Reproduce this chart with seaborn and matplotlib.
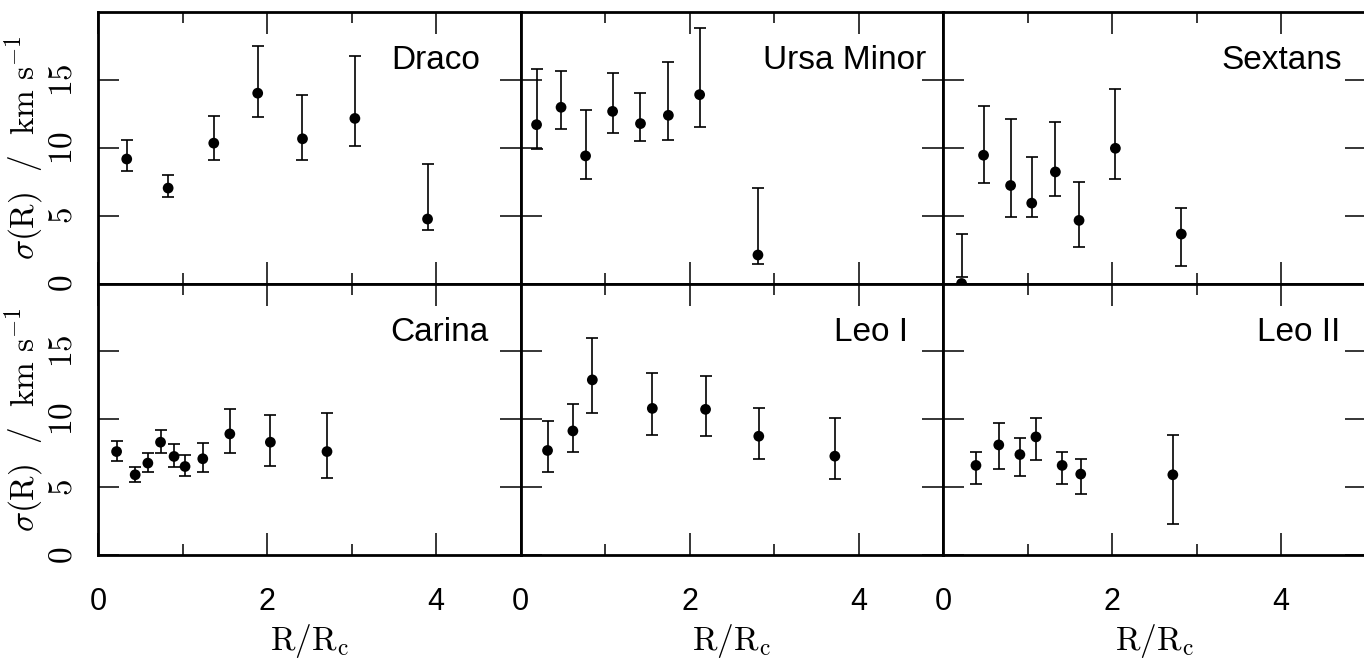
import matplotlib
matplotlib.use("Agg")
import matplotlib.pyplot as plt
import seaborn as sns
import pandas as pd
import numpy as np
from matplotlib.ticker import FixedLocator

# Velocity dispersion profiles of six dwarf spheroidals
galaxies = ["Draco", "Ursa Minor", "Sextans", "Carina", "Leo I", "Leo II"]

draco_r = [0.34, 0.83, 1.37, 1.89, 2.42, 3.04, 3.90]
draco_sigma = [9.17, 7.03, 10.34, 14.02, 10.66, 12.16, 4.75]
draco_lo = [8.26, 6.40, 9.09, 12.25, 9.09, 10.15, 3.92]
draco_hi = [10.54, 7.96, 12.35, 17.50, 13.87, 16.79, 8.80]

umi_r = [0.19, 0.48, 0.77, 1.09, 1.42, 1.75, 2.12, 2.81]
umi_sigma = [11.70, 12.98, 9.40, 12.68, 11.78, 12.39, 13.91, 2.10]
umi_lo = [9.89, 11.36, 7.68, 11.07, 10.53, 10.60, 11.53, 1.46]
umi_hi = [15.82, 15.68, 12.78, 15.48, 14.00, 16.34, 18.79, 7.00]

sextans_r = [0.22, 0.48, 0.80, 1.05, 1.33, 1.61, 2.04, 2.82]
sextans_sigma = [0.00, 9.45, 7.22, 5.92, 8.22, 4.65, 9.96, 3.64]
sextans_lo = [0.50, 7.41, 4.89, 4.89, 6.46, 2.71, 7.71, 1.31]
sextans_hi = [3.66, 13.10, 12.12, 9.30, 11.88, 7.46, 14.30, 5.53]

carina_r = [0.22, 0.44, 0.59, 0.74, 0.90, 1.03, 1.24, 1.56, 2.04, 2.71]
carina_sigma = [7.62, 5.91, 6.77, 8.31, 7.26, 6.52, 7.09, 8.92, 8.31, 7.62]
carina_lo = [6.96, 5.38, 6.11, 7.53, 6.48, 5.79, 6.14, 7.48, 6.55, 5.65]
carina_hi = [8.43, 6.48, 7.55, 9.21, 8.19, 7.35, 8.24, 10.75, 10.34, 10.46]

leo1_r = [0.32, 0.62, 0.85, 1.56, 2.19, 2.82, 3.72]
leo1_sigma = [7.70, 9.14, 12.90, 10.80, 10.73, 8.75, 7.28]
leo1_lo = [6.13, 7.58, 10.46, 8.85, 8.75, 7.09, 5.57]
leo1_hi = [9.90, 11.10, 16.00, 13.44, 13.17, 10.80, 10.12]

leo2_r = [0.39, 0.66, 0.91, 1.10, 1.41, 1.63, 2.72]
leo2_sigma = [6.60, 8.11, 7.40, 8.70, 6.60, 5.96, 5.91]
leo2_lo = [5.23, 6.35, 5.84, 6.99, 5.23, 4.52, 2.32]
leo2_hi = [7.62, 9.73, 8.62, 10.12, 7.62, 7.04, 8.87]

x_ticks = [0, 2, 4]
y_ticks = [0, 5, 10, 15]

series = [
    (draco_r, draco_sigma, draco_lo, draco_hi),
    (umi_r, umi_sigma, umi_lo, umi_hi),
    (sextans_r, sextans_sigma, sextans_lo, sextans_hi),
    (carina_r, carina_sigma, carina_lo, carina_hi),
    (leo1_r, leo1_sigma, leo1_lo, leo1_hi),
    (leo2_r, leo2_sigma, leo2_lo, leo2_hi),
]
frames = []
for name, (r, s, lo, hi) in zip(galaxies, series):
    frames.append(pd.DataFrame({"galaxy": name, "r": r, "sigma": s, "lo": lo, "hi": hi}))
df = pd.concat(frames, ignore_index=True)

sns.set_style("ticks")
plt.rcParams.update({
    "mathtext.fontset": "cm",
    "font.family": ["Liberation Sans", "DejaVu Sans"],
    "text.color": "black",
    "axes.labelcolor": "black",
    "xtick.color": "black",
    "ytick.color": "black",
    "axes.edgecolor": "black",
})

W, H = 1364, 663
fig = plt.figure(figsize=(W / 100, H / 100), dpi=100)

left_px = 98.0
panel_w = 422.5
top_px = 12.0
row_h = 271.5

# per-panel name placement (axes fraction, right-aligned)
label_x = [0.905, 0.96, 0.944, 0.924, 0.916, 0.941]

for i, name in enumerate(galaxies):
    row, col = divmod(i, 3)
    x0 = (left_px + col * panel_w) / W
    y0 = 1 - (top_px + (row + 1) * row_h) / H
    ax = fig.add_axes([x0, y0, panel_w / W, row_h / H])
    sub = df[df["galaxy"] == name]

    # error bars span the confidence interval [lo, hi]
    mid = (sub["lo"] + sub["hi"]) / 2
    half = (sub["hi"] - sub["lo"]) / 2
    ax.errorbar(sub["r"], mid, yerr=half,
                fmt="none", ecolor="black", elinewidth=1.2,
                capsize=4.5, capthick=1.2, zorder=2, clip_on=False)
    sns.scatterplot(data=sub, x="r", y="sigma", ax=ax, color="black",
                    s=60, edgecolor="none", zorder=3, clip_on=False,
                    legend=False)

    ax.set_xlim(0, 5)
    ax.set_ylim(0, 20)

    ax.xaxis.set_major_locator(FixedLocator(x_ticks))
    ax.xaxis.set_minor_locator(FixedLocator([1, 3, 5]))
    ax.yaxis.set_major_locator(FixedLocator(y_ticks))
    ax.yaxis.set_minor_locator(FixedLocator([]))

    ax.tick_params(axis="both", which="both", direction="in",
                   top=True, right=True, colors="black")
    ax.tick_params(axis="x", which="major", length=16, width=1.1, pad=23)
    ax.tick_params(axis="x", which="minor", length=8, width=1.1)
    ax.tick_params(axis="y", which="major", length=15, width=1.1, pad=14)

    for sp in ax.spines.values():
        sp.set_linewidth(2.0)
        sp.set_color("black")

    if row == 1:
        ax.set_xticklabels([str(t) for t in x_ticks], fontsize=22,
                           family=["Liberation Sans", "DejaVu Sans"])
        ax.set_xlabel(r"$\mathrm{R/R_c}$", fontsize=24, labelpad=4)
    else:
        ax.set_xticklabels([])
        ax.set_xlabel("")

    if col == 0:
        ax.set_yticklabels([f"${t}$" for t in y_ticks], fontsize=24,
                           rotation=90, va="center")
        ax.set_ylabel(r"$\sigma(\mathrm{R})\ \ /\ \ \mathrm{km\ s^{-1}}$",
                      fontsize=24, labelpad=2)
    else:
        ax.set_yticklabels([])
        ax.set_ylabel("")

    ax.text(label_x[i], 0.79, name, transform=ax.transAxes,
            ha="right", va="baseline", fontsize=24, color="black",
            family=["Liberation Sans", "DejaVu Sans"])

fig.savefig("out.png", dpi=100)
